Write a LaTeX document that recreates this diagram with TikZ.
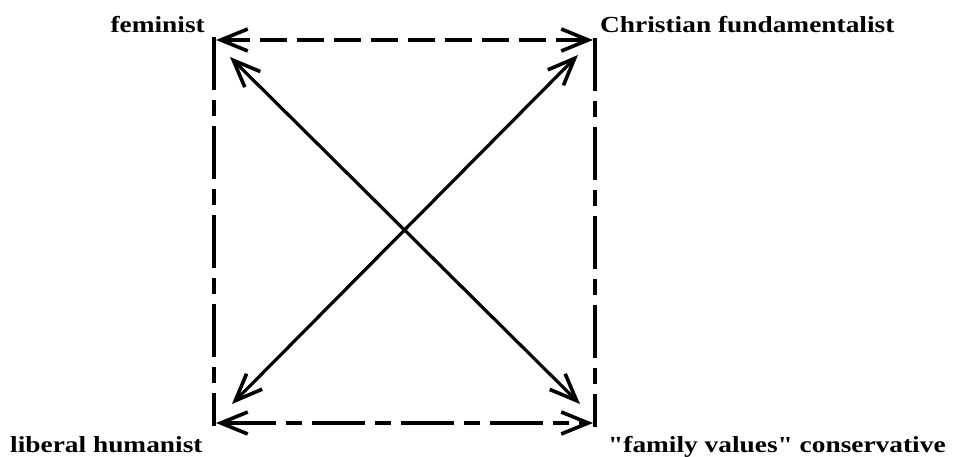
\documentclass[tikz,border=0pt]{standalone}
\usepackage{fontspec}
\setmainfont[FakeStretch=1.19, Ligatures=TeXOff]{Liberation Serif}
\usetikzlibrary{arrows.meta}
\tikzset{
  lbl/.style={inner sep=0pt, font=\fontsize{23}{26}\selectfont\bfseries},
  barb/.tip={Straight Barb[length=27pt,width=22pt,line width=3.6pt]},
  dbl/.style={line width=3.2pt, barb-barb},
  toprule/.style={line width=3.4pt, dash pattern=on 27pt off 10pt},
  sidedash/.style={line width=3.2pt, dash pattern=on 53pt off 10pt on 16pt off 10pt},
}
\begin{document}
\begin{tikzpicture}[x=1pt,y=-1pt]
\useasboundingbox (0,0) rectangle (953,457);
% labels
\node[lbl, anchor=base east] (fem) at (205,33) {feminist};
\node[lbl, anchor=base west] (chr) at (600,33) {Christian fundamentalist};
\node[lbl, anchor=base west] (lib) at (10,452) {liberal humanist};
\node[lbl, anchor=base west] (fam) at (608,452) {"family values" conservative};
% corners
\coordinate (tl) at (216,40);
\coordinate (tr) at (593,40);
\coordinate (bl) at (216,423);
\coordinate (br) at (593,423);
\coordinate (ltop) at (214,37);
\coordinate (lbot) at (214,426);
\coordinate (rtop) at (595,38);
\coordinate (rbot) at (595,427);
% diagonal ends
\coordinate (d1) at (230,57);
\coordinate (d2) at (580,404);
\coordinate (d3) at (232,404);
\coordinate (d4) at (578,55);
% sides
\draw[sidedash] (ltop) -- (lbot);
\draw[sidedash] (rtop) -- (rbot);
\draw[toprule, barb-barb] (tl) -- (tr);
\draw[sidedash, barb-barb] (bl) -- (br);
% diagonals
\draw[dbl] (d1) -- (d2);
\draw[dbl] (d3) -- (d4);
\end{tikzpicture}
\end{document}
